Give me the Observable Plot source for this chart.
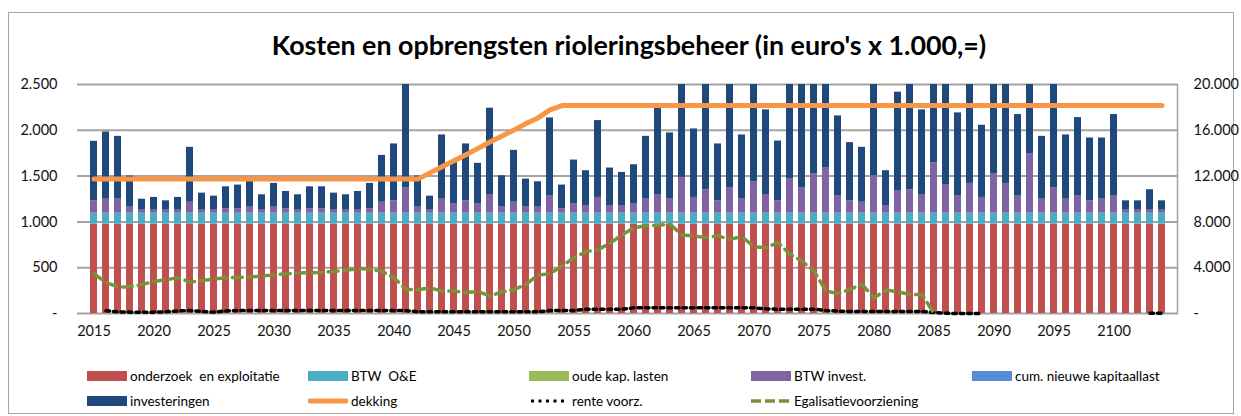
<!DOCTYPE html>
<html><head><meta charset="utf-8">
<script src="https://cdn.jsdelivr.net/npm/d3@7"></script>
<script src="https://cdn.jsdelivr.net/npm/@observablehq/plot@0.6"></script>
<style>
body{margin:0;background:#fff;font-family:Lato,"Liberation Sans",sans-serif;}
#wrap{position:relative;width:1241px;height:416px;overflow:hidden;background:#fff;}
#frame{position:absolute;left:8px;top:12px;width:1226px;height:402px;border:1px solid #a6a6a6;box-sizing:border-box;}
#title{position:absolute;left:0;width:1258px;top:29px;text-align:center;font-weight:bold;font-size:26.8px;color:#000;}
#chart{position:absolute;left:0;top:0;}
.leg{position:absolute;font-size:13.5px;display:flex;align-items:center;white-space:pre;color:#000;height:20px}
.leg svg{margin-right:3px}
</style></head>
<body>
<div id="wrap">
  <div id="frame"></div>
  <div id="chart"></div>
  <div id="title">Kosten en opbrengsten rioleringsbeheer (in euro's x 1.000,=)</div>
  <div id="legend"></div>
</div>
<script>
const years = d3.range(2015, 2105);
const xTicks = [2015,2020,2025,2030,2035,2040,2045,2050,2055,2060,2065,2070,2075,2080,2085,2090,2095,2100];
const yTicks = [0,500,1000,1500,2000,2500];

const onderzoek = [
975,975,975,975,975,975,975,975,975,975, 975,975,975,975,975,975,975,975,975,975,
975,975,975,975,975,975,975,975,975,975, 975,975,975,975,975,975,975,975,975,975,
975,975,975,975,975,975,975,975,975,975, 975,975,975,975,975,975,975,975,975,975,
975,975,975,975,975,975,975,975,975,975, 975,975,975,975,975,975,975,975,975,975,
975,975,975,975,975,975,975,975,975,975];
const btwOE = [
120,120,120,120,120,120,120,120,120,120, 120,120,120,120,120,120,120,120,120,120,
120,120,120,120,120,120,120,120,120,120, 120,120,120,120,120,120,120,120,120,120,
120,120,120,120,120,120,120,120,120,120, 120,120,120,120,120,120,120,120,120,120,
120,120,120,120,120,120,120,120,120,120, 120,120,120,120,120,120,120,120,120,120,
120,120,120,120,120,120,120,120,120,120];
const oudeKap = [
0,0,0,0,0,0,0,0,0,0, 0,0,0,0,0,0,0,0,0,0, 0,0,0,0,0,0,0,0,0,0,
0,0,0,0,0,0,0,0,0,0, 0,0,0,0,0,0,0,0,0,0, 0,0,0,0,0,0,0,0,0,0,
0,0,0,0,0,0,0,0,0,0, 0,0,0,0,0,0,0,0,0,0, 0,0,0,0,0,0,0,0,0,0];
const btwInvest = [
135,153,153,66,33,33,33,33,120,33, 33,47,47,66,33,66,47,33,47,47,
33,33,33,47,120,135,274,66,33,153, 99,135,99,204,66,120,66,66,186,47,
99,84,172,84,84,99,153,204,153,391, 172,256,135,274,153,343,204,135,372,274,
427,493,186,135,120,409,84,241,256,204, 551,307,186,325,172,427,325,186,650,153,
274,153,186,135,153,186,33,33,33,33];
const cumNieuw = [
0,0,0,0,0,0,0,0,0,0, 0,0,0,0,0,0,0,0,0,0, 0,0,0,0,0,0,0,0,0,0,
0,0,0,0,0,0,0,0,0,0, 0,0,0,0,0,0,0,0,0,0, 0,0,0,0,0,0,0,0,0,0,
0,0,0,0,0,0,0,0,0,0, 0,0,0,0,0,0,0,0,0,0, 0,0,0,0,0,0,0,0,0,0];
const investeringen = [
650,734,686,339,120,139,102,139,599,186, 153,241,260,295,168,259,190,168,241,241,
186,168,204,278,511,621,1300,339,153,701, 456,621,445,942,343,566,306,277,854,260,
481,380,839,409,361,430,686,942,723,1300, 748,1300,621,1300,701,1300,924,653,1300,1300,
1300,1300,876,635,599,1300,380,1080,1300,924, 1300,1300,909,1300,788,1300,1300,891,1300,686,
1300,701,858,686,668,891,102,102,223,102];
const dekking = [
1467,1467,1467,1467,1467,1467,1467,1467,1467,1467, 1467,1467,1467,1467,1467,1467,1467,1467,1467,1467,
1467,1467,1467,1467,1467,1467,1467,1467,1535,1602, 1668,1734,1803,1872,1938,2004,2073,2135,2223,2270,
2270,2270,2270,2270,2270,2270,2270,2270,2270,2270, 2270,2270,2270,2270,2270,2270,2270,2270,2270,2270,
2270,2270,2270,2270,2270,2270,2270,2270,2270,2270, 2270,2270,2270,2270,2270,2270,2270,2270,2270,2270,
2270,2270,2270,2270,2270,2270,2270,2270,2270,2270];
const renteVoorz = [
null,30,18,15,15,15,18,28,32,22, 15,28,32,32,32,32,32,32,32,32,
32,32,32,32,32,32,32,18,18,18, 18,18,18,18,18,18,18,18,33,33,
33,47,47,47,47,62,62,62,62,62, 62,62,62,62,62,62,51,47,47,47,
47,33,26,22,22,22,22,22,22,22, 11,2,0,0,0,null,null,null,null,null,
null,null,null,null,null,null,null,null,2,2];
// Egalisatievoorziening on the right-hand axis (x 1.000 euro)
const egalisatie = [
3475,2715,2307,2336,2540,2803,2949,3125,2745,2891, 3008,3125,3154,3183,3270,3358,3475,3533,3562,3591,
3679,3796,3913,3884,3679,3125,2102,2073,2248,1956, 1956,1840,1927,1518,1898,2102,2540,3358,3475,4146,
4877,5402,5577,6132,6862,7504,7650,7709,7796,6862, 6774,6628,6774,6482,6716,5811,5752,6190,5168,4584,
3708,1956,1752,2102,2540,1372,2044,1898,1664,1664, 0,null,null,null,null,null,null,null,null,null,
null,null,null,null,null,null,null,null,null,null];

const barSeries = [
  {name:"onderzoek  en exploitatie", values:onderzoek, color:"#C0504D"},
  {name:"BTW  O&E", values:btwOE, color:"#4BACC6"},
  {name:"oude kap. lasten", values:oudeKap, color:"#9BBB59"},
  {name:"BTW invest.", values:btwInvest, color:"#8064A2"},
  {name:"cum. nieuwe kapitaallast", values:cumNieuw, color:"#558ED5"},
  {name:"investeringen", values:investeringen, color:"#1F497D"}
];
const bars = [];
barSeries.forEach(s => years.forEach((yr, i) => bars.push({year: yr, series: s.name, value: s.values[i]})));
const lineRows = arr => years.map((yr, i) => ({year: yr, v: arr[i]}));

const fmt = d3.formatLocale({decimal: ",", thousands: ".", grouping: [3], currency: ["€", ""]}).format(",");
const grid = "#a3a3a3";

const plot = Plot.plot({
  width: 1241, height: 345,
  marginTop: 84, marginBottom: 32, marginLeft: 77, marginRight: 64,
  style: {fontFamily: "Lato, 'Liberation Sans', sans-serif", fontSize: "14.5px", color: "#111", background: "transparent"},
  x: {type: "band", domain: years, paddingInner: 0.45, paddingOuter: 0.2, label: null},
  y: {domain: [0, 2500], label: null},
  color: {domain: barSeries.map(s => s.name), range: barSeries.map(s => s.color)},
  marks: [
    Plot.ruleY(yTicks, {stroke: grid, strokeWidth: 2}),
    Plot.barY(bars, {x: "year", y: "value", fill: "series", clip: true}),
    Plot.line(lineRows(dekking), {x: "year", y: "v", stroke: "#F79646", strokeWidth: 5}),
    Plot.line(lineRows(renteVoorz), {x: "year", y: "v", stroke: "#000", strokeWidth: 3.5, strokeDasharray: "3.5,4"}),
    Plot.line(lineRows(egalisatie), {x: "year", y: d => d.v == null ? null : d.v / 8, stroke: "#77933C", strokeWidth: 3.5, strokeDasharray: "10,6", clip: true}),
    Plot.frame({anchor: "right", stroke: grid, strokeWidth: 1.5}),
    Plot.axisX({ticks: xTicks, tickSize: 0, tickPadding: 12, tickFormat: d => String(d), label: null}),
    Plot.axisY({ticks: yTicks, tickSize: 0, tickPadding: 20, tickFormat: d => d === 0 ? "-" : fmt(d), label: null}),
    Plot.axisY({anchor: "right", ticks: yTicks, tickSize: 0, tickPadding: 16, tickFormat: d => d === 0 ? "-" : fmt(d * 8), label: null})
  ]
});
document.getElementById("chart").appendChild(plot);

// legend
const legendItems = [
  {name: barSeries[0].name, type: "rect", color: barSeries[0].color, x: 87, y: 366},
  {name: barSeries[1].name, type: "rect", color: barSeries[1].color, x: 308, y: 366},
  {name: barSeries[2].name, type: "rect", color: barSeries[2].color, x: 529, y: 366},
  {name: barSeries[3].name, type: "rect", color: barSeries[3].color, x: 751, y: 366},
  {name: barSeries[4].name, type: "rect", color: barSeries[4].color, x: 972, y: 366},
  {name: barSeries[5].name, type: "rect", color: barSeries[5].color, x: 87, y: 391},
  {name: "dekking", type: "line", color: "#F79646", x: 308, y: 391},
  {name: "rente voorz.", type: "dot", color: "#000", x: 529, y: 391},
  {name: "Egalisatievoorziening", type: "dash", color: "#77933C", x: 751, y: 391}
];
const leg = document.getElementById("legend");
legendItems.forEach(it => {
  const div = document.createElement("div");
  div.className = "leg";
  div.style.left = it.x + "px";
  div.style.top = it.y + "px";
  let sw;
  if (it.type === "rect") sw = `<svg width="40" height="12"><rect x="0" y="1" width="40" height="10" fill="${it.color}"/></svg>`;
  else if (it.type === "line") sw = `<svg width="40" height="12"><line x1="2" x2="38" y1="6" y2="6" stroke="${it.color}" stroke-width="5" stroke-linecap="round"/></svg>`;
  else if (it.type === "dot") sw = `<svg width="40" height="12"><line x1="2" x2="38" y1="6" y2="6" stroke="${it.color}" stroke-width="3" stroke-dasharray="3,4.5"/></svg>`;
  else sw = `<svg width="40" height="12"><line x1="0" x2="40" y1="6" y2="6" stroke="${it.color}" stroke-width="3.5" stroke-dasharray="10,4"/></svg>`;
  div.innerHTML = sw + `<span>${it.name.replace(/&/g, "&amp;")}</span>`;
  leg.appendChild(div);
});
</script>
</body></html>
